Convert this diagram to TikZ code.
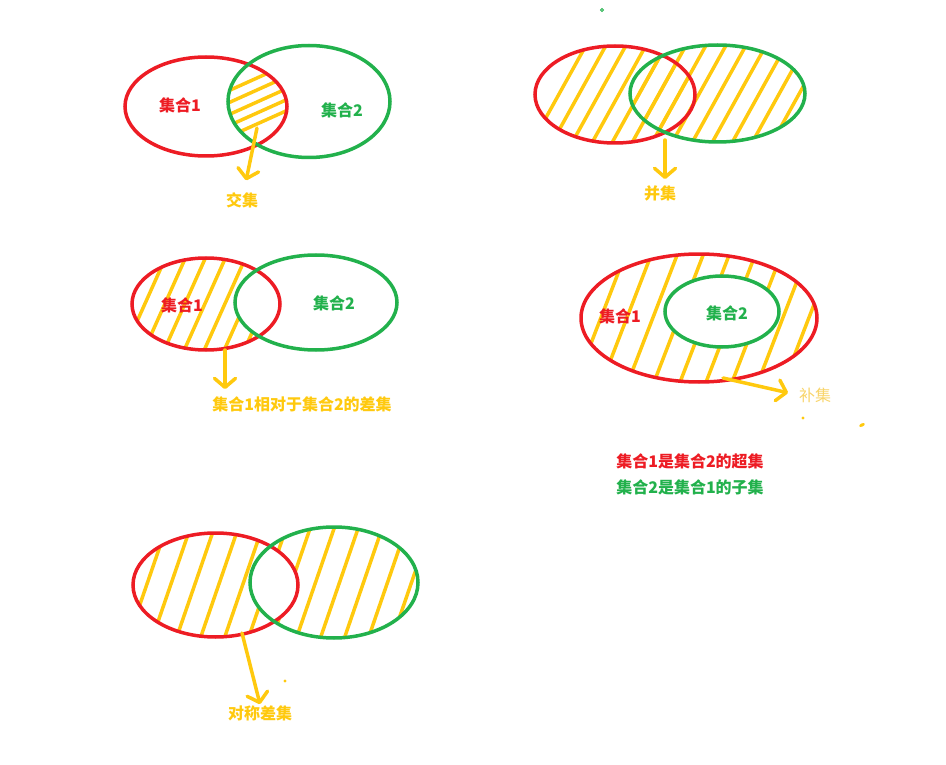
\documentclass[tikz,border=0pt]{standalone}
\usepackage{fontspec}
\newfontfamily\cjk{Noto Sans CJK SC}
\usetikzlibrary{arrows.meta}
\definecolor{setred}{HTML}{ED1C24}
\definecolor{setgreen}{HTML}{22B14C}
\definecolor{gold}{HTML}{FFC90E}
\definecolor{pale}{HTML}{F8D46A}

\begin{document}
\begin{tikzpicture}[x=1pt, y=-1pt, >={Straight Barb[round, length=9pt, width=21pt]},
  redset/.style={setred, line width=3.5pt},
  greenset/.style={setgreen, line width=3.5pt},
  stroke/.style={gold, line width=3.5pt, line cap=round},
  pointer/.style={stroke, ->},
  setname/.style={font=\cjk\bfseries\fontsize{16}{19}\selectfont, inner sep=1pt}]
  \useasboundingbox (0,0) rectangle (946,765);

  \begin{scope}
    \clip (206,106.5) ellipse [x radius=81, y radius=49.5];
    \clip (309,101.5) ellipse [x radius=81, y radius=56];
    \foreach \y in {78,90,102,113,124}
      \draw[stroke] (207,\y+22.5) -- (307,\y-22.5);
  \end{scope}
  \draw[redset] (206,106.5) ellipse [x radius=81, y radius=49.5];
  \draw[greenset] (309,101.5) ellipse [x radius=81, y radius=56];
  \node[setname, setred] (oneA) at (180,105) {集合1};
  \node[setname, setgreen] (twoA) at (342,110) {集合2};
  \coordinate (interfrom) at (257,128);
  \node[setname, gold] (inter) at (242,200) {交集};
  \draw[pointer, shorten >=11pt] (interfrom) -- (inter);

  \begin{scope}
    \clip (615,94.5) ellipse [x radius=80, y radius=48.5];
    \foreach \x in {528,548,...,768}
      \draw[stroke] (\x,150) -- (\x+61,40);
  \end{scope}
  \begin{scope}
    \clip (717.5,93.5) ellipse [x radius=87.5, y radius=48.5];
    \foreach \x in {528,548,...,768}
      \draw[stroke] (\x,150) -- (\x+61,40);
  \end{scope}
  \draw[redset] (615,94.5) ellipse [x radius=80, y radius=48.5];
  \draw[greenset] (717.5,93.5) ellipse [x radius=87.5, y radius=48.5];
  \coordinate (unionfrom) at (665,140);
  \node[setname, gold] (union) at (660,193) {并集};
  \draw[pointer, shorten >=5pt] (unionfrom) -- (unionfrom |- union.north);

  \begin{scope}
    \clip (206,304) ellipse [x radius=74, y radius=46];
    \begin{scope}[even odd rule]
      \clip (206,304) ellipse [x radius=74, y radius=46]
        (316,302.5) ellipse [x radius=81, y radius=47.5];
      \foreach \x in {122,142,...,242}
        \draw[stroke] (\x,355) -- (\x+47,250);
    \end{scope}
  \end{scope}
  \draw[redset] (206,304) ellipse [x radius=74, y radius=46];
  \draw[greenset] (316,302.5) ellipse [x radius=81, y radius=47.5];
  \node[setname, setred] (oneB) at (182,305) {集合1};
  \node[setname, setgreen] (twoB) at (334,303) {集合2};
  \coordinate (difffrom) at (225,350);
  \node[setname, gold] (diff) at (302,404) {集合1相对于集合2的差集};
  \draw[pointer, shorten >=6pt] (difffrom) -- (difffrom |- diff.north);

  \begin{scope}[even odd rule]
    \clip (699,318) ellipse [x radius=118, y radius=64]
      (722,311.5) ellipse [x radius=57, y radius=35.5];
    \foreach \x in {573,599,...,781}
      \draw[stroke] (\x,390) -- (\x+56,245);
  \end{scope}
  \draw[redset] (699,318) ellipse [x radius=118, y radius=64];
  \draw[greenset] (722,311.5) ellipse [x radius=57, y radius=35.5];
  \node[setname, setred] (oneC) at (620,316) {集合1};
  \node[setname, setgreen] (twoC) at (727,313) {集合2};
  \coordinate (compfrom) at (723,378);
  \node[font=\cjk\fontsize{16}{19}\selectfont, inner sep=1pt, pale] (comp) at (815,395) {补集};
  \draw[pointer, shorten >=10pt] (compfrom) -- (comp.west);
  \node[setname, setred] (superset) at (690,461) {集合1是集合2的超集};
  \node[setname, setgreen] (subset) at (690,487) {集合2是集合1的子集};

  \begin{scope}[even odd rule]
    \clip (215.5,585) ellipse [x radius=82.5, y radius=52]
      (334,582.5) ellipse [x radius=84, y radius=55.5];
    \foreach \x in {126,150,...,390}
      \draw[stroke] (\x,645) -- (\x+43,520);
  \end{scope}
  \draw[redset] (215.5,585) ellipse [x radius=82.5, y radius=52];
  \draw[greenset] (334,582.5) ellipse [x radius=84, y radius=55.5];
  \coordinate (symmfrom) at (242,633);
  \node[setname, gold] (symm) at (260,713) {对称差集};
  \draw[pointer] (symmfrom) -- (symm.north);

  \draw[setgreen, line width=0.8pt] (602,10) circle (1.5);
  \fill[gold] (803,418) circle (1.6) (285,681) circle (1.6);
  \fill[gold, rotate around={25:(862,425)}] (862,425) ellipse [x radius=3, y radius=1.6];
\end{tikzpicture}
\end{document}
